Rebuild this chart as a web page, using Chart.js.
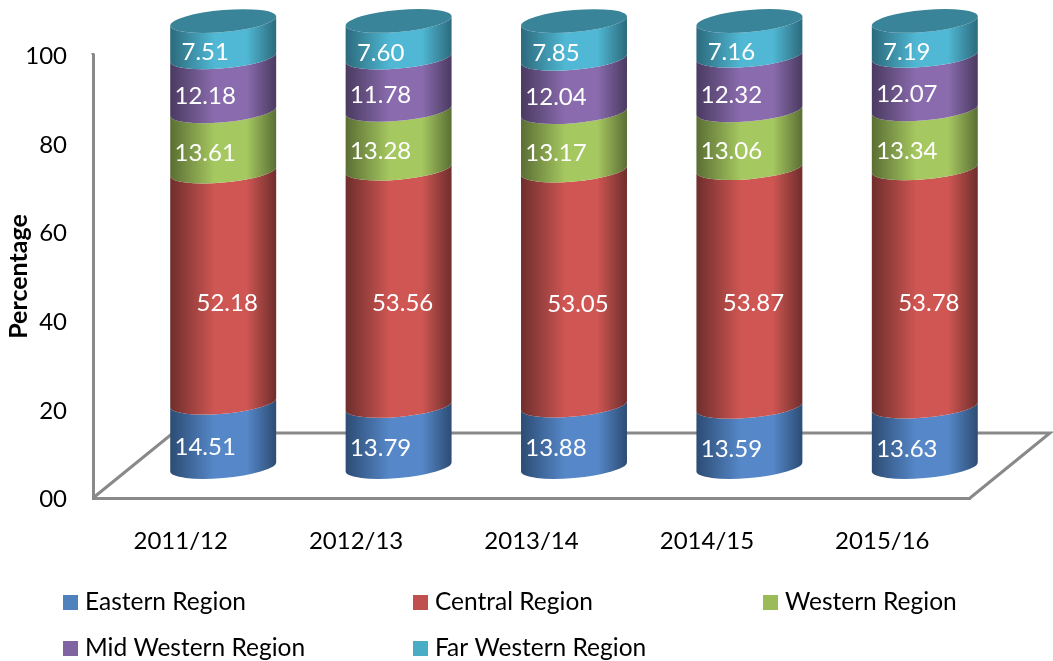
<!DOCTYPE html>
<html>
<head>
<meta charset="utf-8">
<style>
  html, body { margin: 0; padding: 0; background: #fff; }
  canvas { display: block; }
</style>
<script src="https://cdn.jsdelivr.net/npm/chart.js@4/dist/chart.umd.min.js"></script>
</head>
<body>
<canvas id="grafico" width="1053" height="661"></canvas>
<script>
const years = ["2011/12", "2012/13", "2013/14", "2014/15", "2015/16"];
const eastern = [14.51, 13.79, 13.88, 13.59, 13.63];
const central = [52.18, 53.56, 53.05, 53.87, 53.78];
const western = [13.61, 13.28, 13.17, 13.06, 13.34];
const midWestern = [12.18, 11.78, 12.04, 12.32, 12.07];
const farWestern = [7.51, 7.60, 7.85, 7.16, 7.19];
const yTicks = ["00", "20", "40", "60", "80", "100"];

const fontName = "Lato, 'Open Sans', sans-serif";
const axisGray = "#898989";

// cylinders sit halfway back on the floor
const floorDepth = { x: 80, y: -65 };
const cylShift = { x: 42.5, y: -31 };
const tilt = 4.5, ellipseH = 11, capLift = 3;

// edge / middle colours for the shading of each series
const shades = [
  ["#2c4c74", "#5688c9"],
  ["#6e2e2c", "#cf5653"],
  ["#5a6e34", "#a6c860"],
  ["#4a3a60", "#8a6cae"],
  ["#2c6a7c", "#50b8d4"]
];
const topColor = "#3a8499";
const labelShift = [[-18, 12], [4, 16], [-18, 12], [-18, 12], [-18, 12]];
const legendPos = [[63, 602], [413, 602], [763, 602], [63, 648], [413, 648]];

const cylinders = {
  id: "cylinders",
  beforeDatasetsDraw(chart) {
    const ctx = chart.ctx;
    const area = chart.chartArea;
    const last = chart.data.datasets.length - 1;

    // floor, plus the bit of y axis that pokes above 100
    ctx.save();
    ctx.strokeStyle = axisGray;
    ctx.lineWidth = 3;
    ctx.beginPath();
    ctx.moveTo(area.left, area.top - 2);
    ctx.lineTo(area.left, area.top);
    ctx.moveTo(area.left, area.bottom);
    ctx.lineTo(area.left + floorDepth.x, area.bottom + floorDepth.y);
    ctx.lineTo(area.right + floorDepth.x, area.bottom + floorDepth.y);
    ctx.lineTo(area.right, area.bottom);
    ctx.stroke();
    ctx.restore();

    chart.data.datasets.forEach((ds, d) => {
      const meta = chart.getDatasetMeta(d);
      meta.data.forEach((bar) => {
        const a = bar.width / 2;
        const yt = bar.y + cylShift.y - (d === last ? capLift : 0);
        const yb = bar.base + cylShift.y;
        ctx.save();
        ctx.transform(1, -tilt / a, 0, 1, bar.x + cylShift.x, 0);
        const grad = ctx.createLinearGradient(-a, 0, a, 0);
        grad.addColorStop(0, shades[d][0]);
        grad.addColorStop(0.42, shades[d][1]);
        grad.addColorStop(0.72, shades[d][1]);
        grad.addColorStop(1, shades[d][0]);
        ctx.fillStyle = grad;
        ctx.beginPath();
        ctx.moveTo(a, yt);
        ctx.lineTo(a, yb);
        ctx.ellipse(0, yb, a, ellipseH, 0, 0, Math.PI);
        ctx.lineTo(-a, yt);
        ctx.ellipse(0, yt, a, ellipseH, 0, Math.PI, 0, true);
        ctx.closePath();
        ctx.fill();
        if (d === last) {
          ctx.fillStyle = topColor;
          ctx.beginPath();
          ctx.ellipse(0, yt, a, ellipseH, 0, 0, Math.PI * 2);
          ctx.fill();
        }
        ctx.restore();
      });
    });

    // value labels
    ctx.save();
    ctx.font = "24px " + fontName;
    ctx.fillStyle = "#fff";
    ctx.textAlign = "center";
    ctx.textBaseline = "middle";
    chart.data.datasets.forEach((ds, d) => {
      chart.getDatasetMeta(d).data.forEach((bar, i) => {
        const x = bar.x + cylShift.x + labelShift[d][0];
        const y = (bar.y + bar.base) / 2 + cylShift.y + labelShift[d][1];
        ctx.fillText(ds.data[i].toFixed(2), x, y);
      });
    });
    ctx.restore();

    // legend
    ctx.save();
    ctx.font = "24.5px " + fontName;
    ctx.textBaseline = "middle";
    chart.data.datasets.forEach((ds, d) => {
      const [lx, ly] = legendPos[d];
      ctx.fillStyle = ds.backgroundColor;
      ctx.fillRect(lx, ly - 7, 15, 15);
      ctx.fillStyle = "#000";
      ctx.fillText(ds.label, lx + 22, ly);
    });
    ctx.restore();

    return false;
  }
};

new Chart(document.getElementById("grafico").getContext("2d"), {
  type: "bar",
  data: {
    labels: years,
    datasets: [
      { label: "Eastern Region", data: eastern, backgroundColor: "#4f81bd" },
      { label: "Central Region", data: central, backgroundColor: "#c0504d" },
      { label: "Western Region", data: western, backgroundColor: "#9bbb59" },
      { label: "Mid Western Region", data: midWestern, backgroundColor: "#8064a2" },
      { label: "Far Western Region", data: farWestern, backgroundColor: "#4bacc6" }
    ]
  },
  options: {
    responsive: false,
    animation: false,
    layout: { padding: { top: 55, right: 83, bottom: 100, left: 0 } },
    datasets: { bar: { categoryPercentage: 1, barPercentage: 0.604 } },
    plugins: { legend: { display: false }, tooltip: { enabled: false } },
    scales: {
      x: {
        stacked: true,
        afterFit(scale) { scale.height = 63; },
        grid: { display: false, drawTicks: false },
        border: { color: axisGray, width: 3 },
        ticks: { color: "#000", padding: 29, maxRotation: 0, font: { family: fontName, size: 24 } }
      },
      y: {
        stacked: true,
        min: 0,
        max: 100,
        afterFit(scale) { scale.width = 93; },
        grid: { display: false, drawTicks: false },
        border: { color: axisGray, width: 3 },
        ticks: {
          stepSize: 20,
          color: "#000",
          padding: 26,
          labelOffset: 1.5,
          font: { family: fontName, size: 24 },
          callback(v, i) { return yTicks[i]; }
        },
        title: {
          display: true,
          text: "Percentage",
          color: "#000",
          padding: { top: 4, bottom: 0 },
          font: { family: fontName, size: 25, weight: "bold" }
        }
      }
    }
  },
  plugins: [cylinders]
});
</script>
</body>
</html>
